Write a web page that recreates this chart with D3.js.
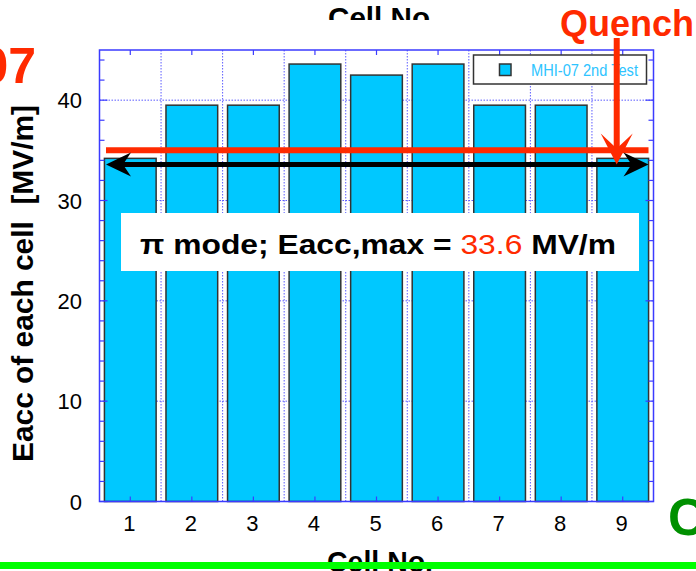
<!DOCTYPE html>
<html>
<head>
<meta charset="utf-8">
<title>Eacc of each cell</title>
<script src="https://d3js.org/d3.v7.min.js"></script>
<style>
  body { margin: 0; background: #fff; }
  text { font-family: "Liberation Sans", Arial, sans-serif; }
</style>
</head>
<body>
<svg width="696" height="571"></svg>
<script>

// chart data
var cells = ["1", "2", "3", "4", "5", "6", "7", "8", "9"];
var eacc = [34.2, 39.5, 39.5, 43.6, 42.5, 43.6, 39.5, 39.5, 34.2];
var yTicks = [0, 10, 20, 30, 40];
var seriesName = "MHI-07 2nd Test";
var quenchLevel = 35.0;
var eaccMax = 33.6;
var quenchCell = "9";

var svg = d3.select("svg");
var blue = "#3b3bff";
var red = "#ff2a00";

var x = d3.scaleBand().domain(cells).range([99.5, 653.5])
  .paddingInner(0.16).paddingOuter(0.08);
var y = d3.scaleLinear().domain([0, 45]).range([501.5, 50]);
var step = x.step();
var x0 = x.range()[0], x1 = x.range()[1];

// grid (dotted)
var grid = svg.append("g");
grid.selectAll(".gy").data(yTicks.filter(function(d){ return d > 0; }))
  .enter().append("line")
  .attr("x1", x0).attr("x2", x1)
  .attr("y1", function(d){ return y(d); }).attr("y2", function(d){ return y(d); })
  .style("stroke", "#5a5aff").style("stroke-width", 1).style("stroke-dasharray", "1.5,1.5");
grid.selectAll(".gx").data(d3.range(1, cells.length))
  .enter().append("line")
  .attr("x1", function(i){ return x0 + i * step; }).attr("x2", function(i){ return x0 + i * step; })
  .attr("y1", y(45)).attr("y2", y(0))
  .style("stroke", "#5a5aff").style("stroke-width", 1).style("stroke-dasharray", "1.5,1.5");

// bars
svg.selectAll(".bar").data(eacc).enter().append("rect")
  .attr("x", function(d, i){ return x(cells[i]); })
  .attr("width", x.bandwidth())
  .attr("y", function(d){ return y(d); })
  .attr("height", function(d){ return y(0) - y(d); })
  .style("fill", "#00c8ff").style("stroke", "#333").style("stroke-width", 1.5);

// frame
svg.append("rect").attr("x", x0).attr("y", y(45))
  .attr("width", x1 - x0).attr("height", y(0) - y(45))
  .style("fill", "none").style("stroke", blue).style("stroke-width", 1.5);

// inward ticks
var yMinor = d3.range(0, 46, 2);
[x0, x1].forEach(function(xe, k){
  var dir = k == 0 ? 1 : -1;
  svg.append("g").selectAll("line").data(yMinor).enter().append("line")
    .attr("x1", xe).attr("x2", function(d){ return xe + dir * (d % 10 == 0 ? 8 : 5); })
    .attr("y1", function(d){ return y(d); }).attr("y2", function(d){ return y(d); })
    .style("stroke", blue).style("stroke-width", 1.2);
});
[y(0), y(45)].forEach(function(ye, k){
  var dir = k == 0 ? -1 : 1;
  svg.append("g").selectAll("line").data(cells).enter().append("line")
    .attr("x1", function(d){ return x(d) + x.bandwidth() / 2; })
    .attr("x2", function(d){ return x(d) + x.bandwidth() / 2; })
    .attr("y1", ye).attr("y2", ye + dir * 5)
    .style("stroke", blue).style("stroke-width", 1.2);
});

// tick labels
svg.append("g").selectAll("text").data(yTicks).enter().append("text")
  .attr("x", 82).attr("y", function(d){ return y(d) + 8; })
  .attr("text-anchor", "end").style("font-size", "22px").text(function(d){ return d; });
svg.append("g").selectAll("text").data(cells).enter().append("text")
  .attr("x", function(d){ return x(d) + x.bandwidth() / 2 - 1; }).attr("y", 531)
  .attr("text-anchor", "middle").style("font-size", "22px").text(function(d){ return d; });

// axis titles
svg.append("text")
  .attr("transform", "translate(33,283.5) rotate(-90)")
  .attr("text-anchor", "middle").attr("textLength", 357).attr("lengthAdjust", "spacingAndGlyphs")
  .style("font-size", "30px").style("font-weight", "bold")
  .text("Eacc of each cell\u00a0\u00a0[MV/m]");

svg.append("clipPath").attr("id", "topclip").append("rect")
  .attr("x", 0).attr("y", 0).attr("width", 696).attr("height", 20);
svg.append("text").attr("x", 328).attr("y", 28).attr("clip-path", "url(#topclip)")
  .attr("textLength", 102).attr("lengthAdjust", "spacingAndGlyphs")
  .style("font-size", "30px").style("font-weight", "bold").text("Cell No");

svg.append("text").attr("x", 327).attr("y", 572)
  .attr("textLength", 106).attr("lengthAdjust", "spacingAndGlyphs")
  .style("font-size", "30px").style("font-weight", "bold").text("Cell No.");

// legend
var lg = svg.append("g");
lg.append("rect").attr("x", 473.5).attr("y", 55).attr("width", 173).attr("height", 29)
  .style("fill", "#fff").style("stroke", "#333").style("stroke-width", 1.5);
lg.append("rect").attr("x", 499.5).attr("y", 64).attr("width", 11.5).attr("height", 11.5)
  .style("fill", "#00c8ff").style("stroke", "#333").style("stroke-width", 1.5);
lg.append("text").attr("x", 531).attr("y", 76)
  .attr("textLength", 107).attr("lengthAdjust", "spacingAndGlyphs")
  .style("font-size", "17px").style("fill", "#2ec4ff").text(seriesName);

// quench level line
svg.append("line").attr("x1", x0 + 6.5).attr("x2", x1 - 5)
  .attr("y1", y(quenchLevel)).attr("y2", y(quenchLevel))
  .style("stroke", red).style("stroke-width", 6);

// double arrow at Eacc,max
var ya = y(eaccMax);
var ax0 = x0 + 6.5, ax1 = x1 - 5;
svg.append("line").attr("x1", ax0 + 15).attr("x2", ax1 - 15).attr("y1", ya).attr("y2", ya)
  .style("stroke", "#000").style("stroke-width", 5);
svg.append("path")
  .attr("d", "M" + ax1 + "," + ya + " L" + (ax1 - 25) + "," + (ya - 12) + " L" + (ax1 - 17) + "," + ya +
    " L" + (ax1 - 25) + "," + (ya + 12) + " Z")
  .style("fill", "#000");
svg.append("path")
  .attr("d", "M" + ax0 + "," + ya + " L" + (ax0 + 25) + "," + (ya - 12) + " L" + (ax0 + 17) + "," + ya +
    " L" + (ax0 + 25) + "," + (ya + 12) + " Z")
  .style("fill", "#000");

// annotation box
svg.append("rect").attr("x", 121).attr("y", 213).attr("width", 518).attr("height", 58)
  .style("fill", "#fff");
var t = svg.append("text").attr("x", 140).attr("y", 254)
  .attr("textLength", 476).attr("lengthAdjust", "spacingAndGlyphs")
  .style("font-size", "27px").style("font-weight", "bold");
t.append("tspan").text("\u03c0 mode; Eacc,max = ");
t.append("tspan").style("fill", red).style("font-weight", "normal").text(eaccMax.toFixed(1));
t.append("tspan").text(" MV/m");

// quench arrow
var qx = x(quenchCell) + x.bandwidth() / 2 - 6;
svg.append("line").attr("x1", qx).attr("x2", qx).attr("y1", 38).attr("y2", ya - 14)
  .style("stroke", red).style("stroke-width", 6);
svg.append("path")
  .attr("d", "M" + qx + "," + ya + " L" + (qx - 16) + "," + (ya - 31) + " L" + qx + "," + (ya - 16) +
    " L" + (qx + 16) + "," + (ya - 31) + " Z")
  .style("fill", red);
svg.append("text").attr("x", 560).attr("y", 36)
  .style("font-size", "36px").style("font-weight", "bold").style("fill", red).text("Quench");

// fragments of neighbouring slide elements
svg.append("text").attr("x", 36).attr("y", 83).attr("text-anchor", "end")
  .style("font-size", "50px").style("font-weight", "bold").style("fill", red).text("07");
svg.append("text").attr("x", 668).attr("y", 535)
  .style("font-size", "52px").style("font-weight", "bold").style("fill", "#009000").text("C");
svg.append("line").attr("x1", 0).attr("x2", 696).attr("y1", 565.5).attr("y2", 565.5)
  .style("stroke", "#00ff00").style("stroke-width", 7);

</script>
</body>
</html>
